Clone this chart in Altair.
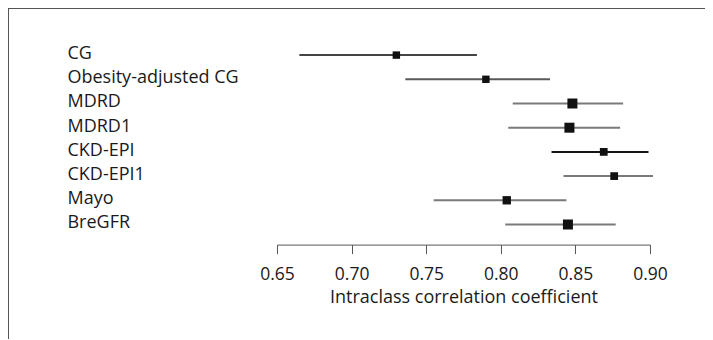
import altair as alt
import pandas as pd

equations = ["CG", "Obesity-adjusted CG", "MDRD", "MDRD1", "CKD-EPI", "CKD-EPI1", "Mayo", "BreGFR"]
icc = [0.730, 0.790, 0.848, 0.846, 0.869, 0.876, 0.804, 0.845]
ci_low = [0.665, 0.736, 0.808, 0.805, 0.834, 0.842, 0.755, 0.803]
ci_high = [0.784, 0.833, 0.882, 0.880, 0.899, 0.902, 0.844, 0.877]
tick_values = [0.65, 0.70, 0.75, 0.80, 0.85, 0.90]

# styling (not data)
line_colors = ["#444444", "#5a5a5a", "#7a7a7a", "#7a7a7a", "#151515", "#7a7a7a", "#7a7a7a", "#7a7a7a"]
marker_area = [55, 55, 100, 100, 60, 60, 70, 100]

df = pd.DataFrame({
    "eq": equations, "icc": icc, "lo": ci_low, "hi": ci_high,
    "lc": line_colors, "ms": marker_area,
})

FONT = "Open Sans"
xscale = alt.Scale(domain=[0.65, 0.90], nice=False, zero=False)
yenc = alt.Y("eq:N", sort=equations,
             scale=alt.Scale(paddingInner=0, paddingOuter=0),
             axis=alt.Axis(title=None, ticks=False, domain=False, labelAlign="left",
                           labelPadding=210, labelFont=FONT, labelFontSize=18,
                           labelColor="#1a1a1a", labelOffset=-1))

ci = alt.Chart(df).mark_rule(strokeWidth=2).encode(
    x=alt.X("lo:Q", scale=xscale,
            axis=alt.Axis(title="Intraclass correlation coefficient", values=tick_values,
                          format=".2f", grid=False, offset=8, tickSize=9,
                          tickColor="#555555", domainColor="#555555",
                          labelFont=FONT, labelFontSize=17.5, labelColor="#1a1a1a",
                          labelFlush=False, labelPadding=12,
                          titleFont=FONT, titleFontSize=18,
                          titleFontWeight="normal", titleColor="#1a1a1a",
                          titlePadding=5)),
    x2="hi:Q",
    y=yenc,
    color=alt.Color("lc:N", scale=None),
)

pts = alt.Chart(df).mark_point(shape="square", filled=True, opacity=1, color="#111111").encode(
    x=alt.X("icc:Q", scale=xscale),
    y=alt.Y("eq:N", sort=equations),
    size=alt.Size("ms:Q", scale=None),
)

border_top = alt.Chart(df).mark_rule(color="#555555", strokeWidth=1.5).encode(
    x=alt.value(-269), x2=alt.value(450), y=alt.value(-35))
border_left = alt.Chart(df).mark_rule(color="#555555", strokeWidth=1.5).encode(
    x=alt.value(-269), y=alt.value(-35), y2=alt.value(310))

chart = alt.layer(ci, pts, border_top, border_left).properties(
    width=373, height=193.6,
    autosize=alt.AutoSizeParams(type="none"),
    padding={"left": 269, "top": 35, "right": 55, "bottom": 102},
    view=alt.ViewBackground(stroke="transparent", strokeWidth=0),
).configure_view(stroke="transparent", strokeWidth=0).configure(background="white")

chart.save("out.html", embed_options={"renderer": "svg", "actions": False})
